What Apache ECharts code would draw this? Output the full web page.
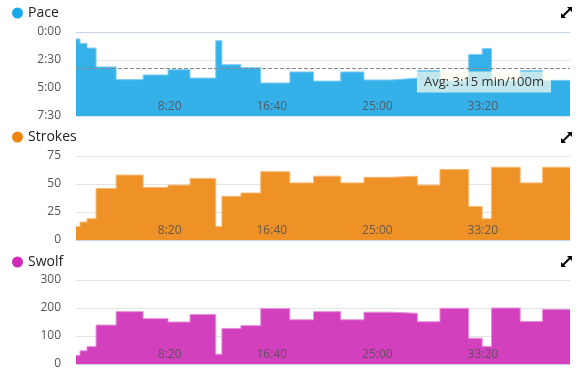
<!DOCTYPE html>
<html>
<head>
<meta charset="utf-8">
<script src="https://cdn.jsdelivr.net/npm/echarts@6/dist/echarts.min.js"></script>
<style>
html,body{margin:0;padding:0;background:#fff;}
#c{width:578px;height:373px;}
</style>
</head>
<body>
<div id="c"></div>
<script>
// Segment start times (seconds of elapsed time)
var segStart = [0, 19, 52, 95, 190, 318, 436, 540, 662, 691, 781, 875, 1013, 1125, 1254, 1364, 1493, 1617, 1724, 1860, 1924, 1968, 2104, 2210];
var endTime = 2340;
// Pace per segment (seconds per 100m)
var pace = [37, 61, 86, 187, 255, 230, 202, 247, 47, 175, 191, 273, 214, 263, 214, 257, 247, 207, 262, 120, 88, 262, 207, 259];
// Strokes per segment
var strokes = [12, 16, 19, 46, 58, 47, 49, 55, 12, 39, 42, 61, 51, 57, 51, 56, 57, 49, 63, 30, 19, 65, 51, 65];
// Swolf per segment
var swolf = [31, 47, 62, 139, 187, 162, 150, 177, 35, 127, 137, 198, 158, 187, 158, 185, 181, 151, 199, 92, 63, 200, 152, 195];
var avgPace = 195;
var avgLabel = 'Avg: 3:15 min/100m';
var xTicks = [500, 1000, 1500, 2000]; // 8:20, 16:40, 25:00, 33:20

function mmss(v) {
  v = Math.round(v);
  var m = Math.floor(v / 60), s = v % 60;
  return m + ':' + (s < 10 ? '0' : '') + s;
}
function stepData(vals) {
  var d = segStart.map(function (t, i) { return [t, vals[i]]; });
  d.push([endTime, vals[vals.length - 1]]);
  return d;
}

var FONT = 'Open Sans';
var grids = [
  {left: 76, width: 494, top: 32, height: 84},
  {left: 76, width: 494, top: 156, height: 84},
  {left: 76, width: 494, top: 280, height: 84}
];
var cols = [
  {base: '#1fa9e8', line: '#7fcdf2', dot: '#1aa8e9'},
  {base: '#ec850e', line: '#f5bd78', dot: '#ef870c'},
  {base: '#ce2bb7', line: '#e590d9', dot: '#cf2ab9'}
];
var names = ['Pace', 'Strokes', 'Swolf'];
var legendTops = [1, 125, 250];
var iconTops = [6, 131, 255];

function xAxis(i) {
  return {
    type: 'value', gridIndex: i, min: 0, max: endTime, interval: 500, z: 5,
    axisLine: {show: true, lineStyle: {color: '#c8d3e6', width: 1}},
    axisTick: {show: false},
    splitLine: {show: false},
    axisLabel: {
      inside: true, align: 'right', margin: 3, color: 'rgba(80,80,80,0.85)',
      fontFamily: FONT, fontSize: 12, showMinLabel: false, showMaxLabel: false,
      formatter: function (v) { return xTicks.indexOf(v) >= 0 ? mmss(v) : ''; }
    }
  };
}
function yAxis(i, opts) {
  var o = {
    type: 'value', gridIndex: i,
    axisLine: {show: false}, axisTick: {show: false},
    splitLine: {show: true, lineStyle: {color: '#e3e3e3', width: 1}},
    axisLabel: {color: '#555', fontFamily: FONT, fontSize: 12, margin: 15}
  };
  for (var k in opts) o[k] = opts[k];
  return o;
}

var chart = echarts.init(document.getElementById('c'), null, {renderer: 'canvas'});
var valsList = [pace, strokes, swolf];
var series = valsList.map(function (vals, i) {
  var s = {
    name: names[i], type: 'line', step: 'end', xAxisIndex: i, yAxisIndex: i,
    data: stepData(vals), symbol: 'none', animation: false,
    itemStyle: {color: cols[i].dot},
    lineStyle: {color: cols[i].line, width: 1},
    areaStyle: {color: cols[i].base, opacity: 0.9, origin: i === 0 ? 'end' : 'start'}
  };
  if (i === 0) {
    s.markLine = {
      silent: true, symbol: 'none', animation: false,
      lineStyle: {color: '#888', type: 'dashed', width: 1},
      label: {
        show: true, position: 'insideEndBottom', formatter: avgLabel,
        color: '#333', fontFamily: FONT, fontSize: 13,
        backgroundColor: 'rgba(255,255,238,0.7)', padding: [4, 7],
        distance: [19, 3]
      },
      data: [{yAxis: avgPace}]
    };
  }
  return s;
});

var graphics = iconTops.map(function (t) {
  return {
    type: 'group', left: 560, top: t, children: [
      {type: 'polygon', shape: {points: [[6, 0], [11, 0], [11, 5]]}, style: {fill: '#000'}},
      {type: 'polygon', shape: {points: [[0, 6], [0, 11], [5, 11]]}, style: {fill: '#000'}},
      {type: 'line', shape: {x1: 1.5, y1: 9.5, x2: 9.5, y2: 1.5}, style: {stroke: '#000', lineWidth: 2}}
    ]
  };
});

chart.setOption({
  animation: false,
  textStyle: {fontFamily: FONT},
  grid: grids,
  legend: names.map(function (n, i) {
    return {
      data: [n], left: 7, top: legendTops[i], icon: 'circle', itemWidth: 11, itemHeight: 11,
      itemGap: 5, selectedMode: false,
      textStyle: {color: '#222', fontSize: 14, fontFamily: FONT}
    };
  }),
  xAxis: [xAxis(0), xAxis(1), xAxis(2)],
  yAxis: [
    yAxis(0, {min: 0, max: 450, interval: 150, inverse: true, axisLabel: {color: '#555', fontFamily: FONT, fontSize: 12, margin: 15, formatter: mmss}}),
    yAxis(1, {min: 0, max: 75, interval: 25}),
    yAxis(2, {min: 0, max: 300, interval: 100})
  ],
  series: series,
  graphic: graphics
});
</script>
</body>
</html>
